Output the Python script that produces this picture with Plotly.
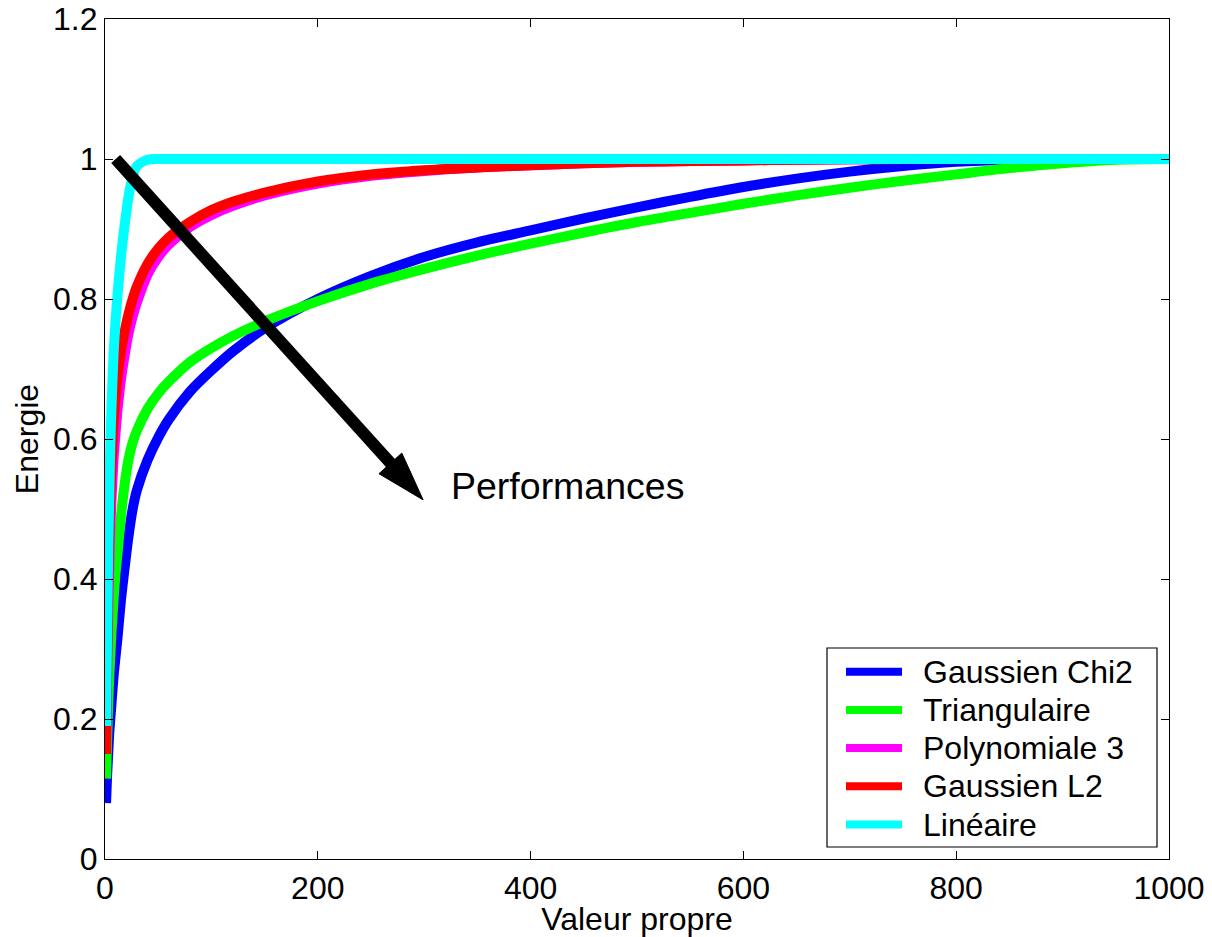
import plotly.graph_objects as go

# Eigenvalue index (x) and cumulative energy for each kernel
eig_index = [1, 2, 3, 4, 5, 6, 8, 10, 12, 15, 18, 22, 26, 30, 40, 50, 60, 80, 100,
             120, 150, 200, 250, 300, 350, 400, 450, 500, 550, 600, 650, 700, 750,
             800, 850, 900, 950, 1000]

energy_gauss_chi2 = [0.08, 0.12, 0.15, 0.18, 0.20, 0.22, 0.26, 0.29, 0.32, 0.37, 0.41,
                     0.46, 0.50, 0.527, 0.57, 0.602, 0.628, 0.668, 0.698, 0.725, 0.758,
                     0.80, 0.833, 0.86, 0.881, 0.898, 0.915, 0.931, 0.946, 0.96,
                     0.972, 0.982, 0.99, 0.996, 0.999, 1.0, 1.0, 1.0]

energy_triang = [0.115, 0.17, 0.22, 0.26, 0.29, 0.32, 0.37, 0.41, 0.44, 0.49, 0.53,
                 0.57, 0.595, 0.612, 0.643, 0.665, 0.682, 0.71, 0.73, 0.747, 0.768,
                 0.797, 0.822, 0.843, 0.862, 0.879, 0.895, 0.91, 0.923, 0.936, 0.948,
                 0.959, 0.969, 0.978, 0.987, 0.994, 0.999, 1.0]

energy_poly3 = [0.16, 0.26, 0.35, 0.42, 0.47, 0.51, 0.57, 0.61, 0.645, 0.685, 0.715,
                0.75, 0.775, 0.795, 0.835, 0.86, 0.878, 0.903, 0.92, 0.933, 0.948,
                0.965, 0.976, 0.983, 0.988, 0.991, 0.994, 0.996, 0.997, 0.998, 0.999,
                0.9995, 1.0, 1.0, 1.0, 1.0, 1.0, 1.0]

energy_gauss_l2 = [0.15, 0.30, 0.40, 0.47, 0.52, 0.56, 0.62, 0.66, 0.69, 0.725, 0.75,
                   0.778, 0.80, 0.818, 0.85, 0.872, 0.888, 0.91, 0.927, 0.939, 0.952,
                   0.968, 0.978, 0.984, 0.988, 0.991, 0.994, 0.996, 0.997, 0.998, 0.999,
                   0.9995, 1.0, 1.0, 1.0, 1.0, 1.0, 1.0]

energy_linear = [0.19, 0.33, 0.44, 0.52, 0.59, 0.64, 0.72, 0.77, 0.81, 0.86, 0.90,
                 0.945, 0.975, 0.99, 0.999, 1.0, 1.0, 1.0, 1.0, 1.0, 1.0, 1.0, 1.0,
                 1.0, 1.0, 1.0, 1.0, 1.0, 1.0, 1.0, 1.0, 1.0, 1.0, 1.0, 1.0, 1.0, 1.0, 1.0]

series_names = ["Gaussien Chi2", "Triangulaire", "Polynomiale 3", "Gaussien L2", "Linéaire"]
series_values = [energy_gauss_chi2, energy_triang, energy_poly3, energy_gauss_l2, energy_linear]
series_colors = ["#0000ff", "#00ff00", "#ff00ff", "#ff0000", "#00ffff"]

# Trend arrow: tail and tip in data units
arrow_tail = (10, 1.0)
arrow_tip = (299, 0.513)
arrow_shaft_end = (274, 0.556)
arrow_label = "Performances"

FONT = "Liberation Sans, Arial, Helvetica, sans-serif"
W, H = 1212, 937
ML, MR, MT, MB = 105, 43, 19, 78
PW, PH = W - ML - MR, H - MT - MB

fig = go.Figure()
for name, vals, col in zip(series_names, series_values, series_colors):
    fig.add_trace(go.Scatter(x=eig_index, y=vals, mode="lines", name=name,
                             line=dict(color=col, width=10, shape="spline", smoothing=0.8),
                             showlegend=False))

shapes = []
annotations = []

# arrow shaft
shapes.append(dict(type="line", xref="x", yref="y",
                   x0=arrow_tail[0], y0=arrow_tail[1],
                   x1=arrow_shaft_end[0], y1=arrow_shaft_end[1],
                   line=dict(color="black", width=12)))
# arrow head (pixel offsets around the tip)
shapes.append(dict(type="path", xref="x", yref="y",
                   xsizemode="pixel", ysizemode="pixel",
                   xanchor=arrow_tip[0], yanchor=arrow_tip[1],
                   path="M0,0 L-21.3,46.8 L-44.2,26.2 Z",
                   fillcolor="black", line=dict(color="black", width=1)))
annotations.append(dict(xref="x", yref="y", x=323, y=0.533, text=arrow_label,
                        showarrow=False, xanchor="left", yanchor="middle",
                        font=dict(family=FONT, size=37.5, color="black")))

# legend box drawn in paper units
def px_x(px):
    return (px - ML) / PW

def px_y(py):
    return (H - MB - py) / PH

shapes.append(dict(type="rect", xref="paper", yref="paper",
                   x0=px_x(827), x1=px_x(1157), y0=px_y(847), y1=px_y(648),
                   fillcolor="white", line=dict(color="black", width=1.2), layer="above"))
for i, (name, col) in enumerate(zip(series_names, series_colors)):
    yc = px_y(671.7 + 38.2 * i)
    shapes.append(dict(type="line", xref="paper", yref="paper",
                       x0=px_x(846), x1=px_x(902), y0=yc, y1=yc,
                       line=dict(color=col, width=8), layer="above"))
    annotations.append(dict(xref="paper", yref="paper", x=px_x(921), y=yc,
                            text=name, showarrow=False, xanchor="left", yanchor="middle",
                            font=dict(family=FONT, size=32, color="black")))

axis_common = dict(showline=True, linecolor="black", linewidth=1.2, mirror="ticks",
                   ticks="inside", ticklen=8, tickwidth=1, tickcolor="black",
                   showgrid=False, zeroline=False, automargin=False,
                   tickfont=dict(family=FONT, size=32, color="black"))

fig.update_layout(
    width=W, height=H,
    margin=dict(l=ML, r=MR, t=MT, b=MB, pad=0, autoexpand=False),
    paper_bgcolor="white", plot_bgcolor="white",
    shapes=shapes, annotations=annotations,
    xaxis=dict(range=[0, 1000], dtick=200, tick0=0,
               title=dict(text="Valeur propre", standoff=2,
                          font=dict(family=FONT, size=32, color="black")),
               **axis_common),
    yaxis=dict(range=[0, 1.2], dtick=0.2, tick0=0,
               title=dict(text="Energie", standoff=4,
                          font=dict(family=FONT, size=32, color="black")),
               **axis_common),
)

fig.write_html("out.html")
